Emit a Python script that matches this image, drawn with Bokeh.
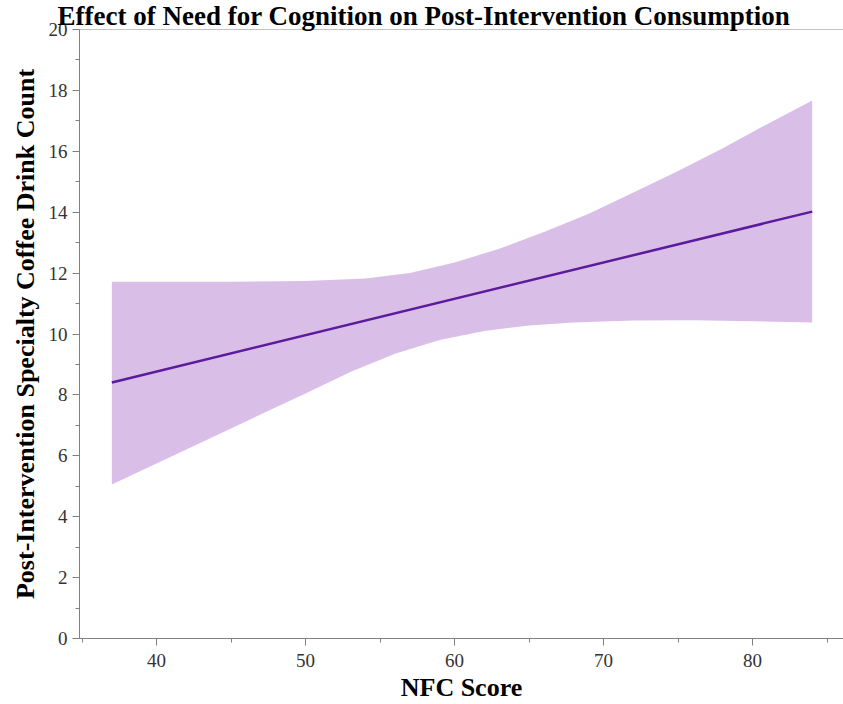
from bokeh.plotting import figure
from bokeh.models import Range1d, SingleIntervalTicker, Span
from bokeh.embed import file_html
from bokeh.resources import INLINE

# Data
nfc_line = [37, 84]
fit_line = [8.41, 14.02]

upper_x = [37, 40, 45, 50, 54, 57, 60, 63, 66, 69, 72, 75, 78, 81, 84]
band_upper = [11.72, 11.72, 11.72, 11.74, 11.82, 12.00, 12.35, 12.80, 13.35, 13.95, 14.65, 15.35, 16.10, 16.90, 17.67]
lower_x = [37, 40, 45, 50, 53, 56, 59, 62, 65, 68, 72, 76, 80, 84]
band_lower = [5.06, 5.75, 6.90, 8.05, 8.75, 9.35, 9.80, 10.10, 10.28, 10.38, 10.44, 10.45, 10.42, 10.38]

title_text = "Effect of Need for Cognition on Post-Intervention Consumption"
x_label = "NFC Score"
y_label = "Post-Intervention Specialty Coffee Drink Count"

SERIF = "Liberation Serif"

p = figure(width=843, height=704, output_backend="svg", toolbar_location=None,
           x_range=Range1d(34.83, 86.1), y_range=Range1d(0, 20),
           min_border_left=79, min_border_right=0, min_border_top=0, min_border_bottom=65,
           title=title_text)

# band polygon: upper edge left->right, lower edge right->left
poly_x = upper_x + lower_x[::-1]
poly_y = band_upper + band_lower[::-1]
p.patch(poly_x, poly_y, fill_color="#d9bfe8", fill_alpha=1.0, line_color=None)
p.line(nfc_line, fit_line, line_color="#5c1a9c", line_width=2.5)

p.grid.visible = False
p.outline_line_color = None
p.background_fill_color = "white"
p.border_fill_color = "white"

p.add_layout(Span(location=20, dimension="width", line_color="#888888", line_width=1))

p.title.text_font = SERIF
p.title.text_font_size = "27px"
p.title.text_font_style = "bold"
p.title.text_color = "black"
p.title.align = "left"
p.title.offset = -22
p.title.standoff = -3

p.xaxis.ticker = SingleIntervalTicker(interval=10, num_minor_ticks=2)
p.yaxis.ticker = SingleIntervalTicker(interval=2, num_minor_ticks=2)

for ax in (p.xaxis[0], p.yaxis[0]):
    ax.axis_line_color = "#808080"
    ax.major_tick_line_color = "#808080"
    ax.minor_tick_line_color = "#808080"
    ax.major_tick_out = 7
    ax.major_tick_in = 0
    ax.minor_tick_out = 4
    ax.minor_tick_in = 0
    ax.major_label_text_font = SERIF
    ax.major_label_text_font_size = "19px"
    ax.major_label_text_color = "#333333"
    ax.axis_label_text_font = SERIF
    ax.axis_label_text_font_size = "26px"
    ax.axis_label_text_font_style = "bold"
    ax.axis_label_text_color = "black"

p.xaxis.axis_label = x_label
p.yaxis.axis_label = y_label
p.xaxis.major_label_standoff = 8
p.yaxis.major_label_standoff = 5
p.xaxis.axis_label_standoff = 3
p.yaxis.axis_label_standoff = 6

open("out.html", "w").write(file_html(p, INLINE))
